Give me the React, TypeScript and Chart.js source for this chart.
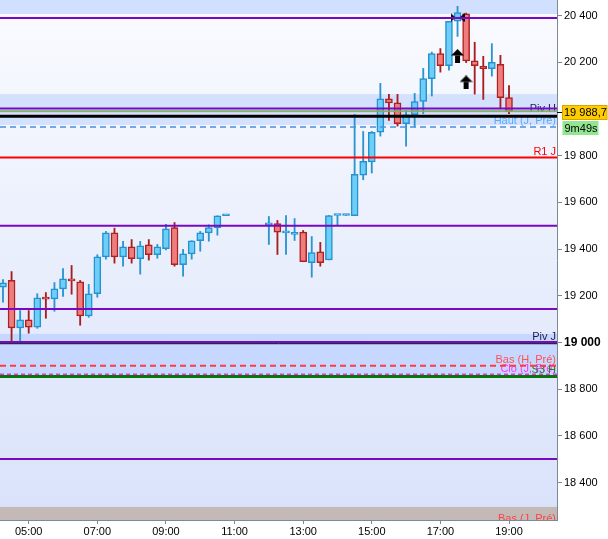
import React, { useEffect, useRef } from "react";
import { Chart, registerables } from "chart.js";

Chart.register(...registerables);

// ---------- data ----------
const candleTimes = [
  "04:15","04:30","04:45","05:00","05:15","05:30","05:45","06:00","06:15","06:30","06:45",
  "07:00","07:15","07:30","07:45","08:00","08:15","08:30","08:45","09:00","09:15","09:30",
  "09:45","10:00","10:15","10:30","10:45",
  "12:00","12:15","12:30","12:45","13:00","13:15","13:30","13:45","14:00","14:15","14:30",
  "14:45","15:00","15:15","15:30","15:45","16:00","16:15","16:30","16:45","17:00","17:15",
  "17:30","17:45","18:00","18:15","18:30","18:45","19:00",
];
const opens = [
  19237,19266,19063,19097,19066,19193,19187,19230,19273,19260,19114,19209,19367,19470,19367,19410,19359,19419,19376,19402,19492,19333,19380,19436,19470,19492,19543,
  19504,19509,19470,19463,19473,19342,19389,19354,19544,19544,19543,19717,19774,19901,20044,20027,19937,19976,20033,20130,20237,20186,20376,20408,20207,20183,20173,20191,20049,
];
const highs = [
  19270,19304,19137,19137,19209,19214,19257,19317,19330,19266,19249,19376,19476,19490,19433,19441,19433,19441,19420,19506,19514,19399,19436,19476,19504,19543,19543,
  19540,19523,19544,19531,19480,19454,19429,19544,19544,19544,19977,19904,19904,20110,20063,20063,19994,20067,20174,20244,20259,20376,20440,20411,20286,20226,20280,20230,20101,
];
const lows = [
  19173,19004,19004,19040,19061,19104,19134,19197,19207,19074,19108,19194,19357,19340,19327,19340,19293,19353,19361,19397,19327,19284,19357,19391,19434,19460,19543,
  19420,19377,19377,19437,19346,19280,19327,19354,19501,19544,19543,19697,19726,19884,19951,19927,19841,19923,19980,20056,20158,20166,20311,20199,20064,20041,20141,20001,19980,
];
const closes = [
  19256,19063,19097,19066,19192,19186,19230,19273,19264,19114,19209,19367,19470,19367,19410,19359,19414,19376,19410,19487,19333,19380,19436,19470,19492,19543,19543,
  19508,19473,19474,19463,19346,19385,19342,19544,19544,19544,19720,19776,19900,20044,20026,19937,19976,20032,20130,20237,20186,20376,20413,20206,20186,20173,20200,20049,19988.7,
];

const xTickHours = [5, 7, 9, 11, 13, 15, 17, 19];
const yTickValues = [18400, 18600, 18800, 19000, 19200, 19400, 19600, 19800, 20200, 20400];
const xRange = [4.163, 20.399];
const yRange = [18240, 20467];

const levelValues = [20390, 20002, 19992, 19988.7, 19969, 19923, 19792, 19500, 19144, 19002, 18995, 18901, 18864, 18855, 18501, 18222];
const levelLabels = ["", "Piv H", "", "", "", "Haut (J, Pré)", "R1 J", "", "", "Piv J", "", "Bas (H, Pré)", "Clo (J, Pré)", "S3 H", "", "Bas (J, Pré)"];

const zoneLows = [20407, 19932, 18857, 18240];
const zoneHighs = [20467, 20064, 19037, 18296];

const arrowTimes = ["17:30", "17:45"];
const arrowValues = [20227, 20114];
const cursorTimes = ["17:30"];
const cursorValues = [20392];

const timerText = "9m49s";

// ---------- styles ----------
const FONT = "'Liberation Sans', Arial, sans-serif";
const PURPLE = "#7a08c2";
const levelStyles = [
  { color: PURPLE, width: 2, dash: [] },
  { color: PURPLE, width: 2, dash: [] },
  { color: "#5cbf5c", width: 1.2, dash: [] },
  { color: "#e07a7a", width: 1, dash: [] },
  { color: "#000000", width: 3, dash: [] },
  { color: "#4a90e2", width: 1.5, dash: [6, 4] },
  { color: "#ff0000", width: 2, dash: [] },
  { color: PURPLE, width: 2, dash: [] },
  { color: PURPLE, width: 2, dash: [] },
  { color: PURPLE, width: 2, dash: [] },
  { color: "#000000", width: 1, dash: [] },
  { color: "#ff3b3b", width: 2, dash: [6, 4] },
  { color: "#ff22ff", width: 1.5, dash: [4, 3] },
  { color: "#007d00", width: 3, dash: [] },
  { color: PURPLE, width: 2, dash: [] },
  { color: "transparent", width: 0, dash: [] },
];
const labelStyles = [
  null,
  { color: "#1b1b5e", dy: 3 },
  null, null, null,
  { color: "#55a8ff", dy: -3 },
  { color: "#ff0000", dy: -2.5 },
  null, null,
  { color: "#1b1b4a", dy: -2 },
  null,
  { color: "#ff5050", dy: -2.5 },
  { color: "#ff33ff", dy: -2.5 },
  { color: "#1f8a1f", dy: -3.5 },
  null,
  { color: "#ff4040", dy: -2 },
];
const zoneColors = ["#d2e0ff", "#d3e1ff", "#c6d8ff", "#c3bab8"];

const toHours = (t: string) => {
  const [h, m] = t.split(":").map(Number);
  return h + m / 60;
};
const fmtThousands = (v: number) => {
  const s = Math.round(v).toString();
  return s.slice(0, -3) + " " + s.slice(-3);
};
const fmtPrice = (v: number) => {
  const ip = Math.floor(v);
  const dec = Math.round((v - ip) * 10);
  return fmtThousands(ip) + "," + dec;
};

function makeArrow(): HTMLCanvasElement {
  const c = document.createElement("canvas");
  c.width = 13;
  c.height = 14;
  const g = c.getContext("2d")!;
  g.fillStyle = "#000";
  g.beginPath();
  g.moveTo(6.5, 0);
  g.lineTo(13, 6.5);
  g.lineTo(0, 6.5);
  g.closePath();
  g.fill();
  g.fillRect(4, 6.5, 5, 7.5);
  return c;
}
function makeBowtie(): HTMLCanvasElement {
  const c = document.createElement("canvas");
  c.width = 14;
  c.height = 9;
  const g = c.getContext("2d")!;
  g.fillStyle = "#000";
  g.beginPath();
  g.moveTo(0, 0);
  g.lineTo(5, 4.5);
  g.lineTo(0, 9);
  g.closePath();
  g.fill();
  g.beginPath();
  g.moveTo(14, 0);
  g.lineTo(9, 4.5);
  g.lineTo(14, 9);
  g.closePath();
  g.fill();
  return c;
}

export default function App() {
  const ref = useRef<HTMLCanvasElement | null>(null);

  useEffect(() => {
    if (!ref.current) return;
    document.body.style.margin = "0";
    const up = closes.map((c, i) => c >= opens[i]);
    const wickColors = up.map((u) => (u ? "#2b95d0" : "#a81e1e"));
    const bodyFill = up.map((u) => (u ? "#6dcff7" : "#ee7d7d"));
    const bodyBorder = up.map((u) => (u ? "#2592cf" : "#b0201f"));

    const levelDatasets: any[] = levelValues
      .map((v, i) => ({ v, i }))
      .filter(({ i }) => levelStyles[i].width > 0)
      .map(({ v, i }) => ({
        type: "line",
        label: "level" + i,
        data: [
          { x: xRange[0], y: v },
          { x: xRange[1], y: v },
        ],
        borderColor: levelStyles[i].color,
        borderWidth: levelStyles[i].width,
        borderDash: levelStyles[i].dash,
        pointRadius: 0,
        fill: false,
        order: 0,
      }));

    const bgPlugin = {
      id: "bg",
      beforeDraw(chart: any) {
        const { ctx, chartArea: a, scales } = chart;
        const y = scales.y;
        ctx.save();
        const g = ctx.createLinearGradient(0, a.top, 0, a.bottom);
        g.addColorStop(0, "#fafbff");
        g.addColorStop(1, "#d9e2fa");
        ctx.fillStyle = g;
        ctx.fillRect(a.left, a.top, a.right - a.left, a.bottom - a.top);
        zoneLows.forEach((lo, i) => {
          const y1 = y.getPixelForValue(zoneHighs[i]);
          const y2 = y.getPixelForValue(lo);
          ctx.fillStyle = zoneColors[i];
          ctx.fillRect(a.left, y1, a.right - a.left, y2 - y1);
        });
        ctx.restore();
      },
      beforeDatasetsDraw(chart: any) {
        const { ctx, chartArea: a, scales } = chart;
        const y = scales.y;
        ctx.save();
        ctx.beginPath();
        ctx.rect(a.left, a.top, a.right - a.left, a.bottom - a.top);
        ctx.clip();
        ctx.font = "11px " + FONT;
        ctx.textAlign = "right";
        ctx.textBaseline = "alphabetic";
        levelLabels.forEach((t, i) => {
          const st = labelStyles[i];
          if (!t || !st) return;
          ctx.fillStyle = st.color;
          ctx.fillText(t, a.right - 1, y.getPixelForValue(levelValues[i]) + st.dy);
        });
        ctx.restore();
      },
      afterDraw(chart: any) {
        const { ctx, chartArea: a, scales, width } = chart;
        const y = scales.y;
        const last = closes[closes.length - 1];
        const py = Math.round(y.getPixelForValue(last));
        ctx.save();
        ctx.strokeStyle = "#000";
        ctx.lineWidth = 1;
        ctx.beginPath();
        ctx.moveTo(a.right, py + 0.5);
        ctx.lineTo(a.right + 6, py + 0.5);
        ctx.stroke();
        // price box
        const bx = a.right + 5.5;
        const bw = width - 1 - bx;
        ctx.fillStyle = "#ffcc00";
        ctx.fillRect(bx, py - 7, bw, 14);
        ctx.strokeStyle = "#d9a400";
        ctx.strokeRect(bx, py - 6.5, bw, 14);
        ctx.fillStyle = "#000";
        ctx.font = "11px " + FONT;
        ctx.textAlign = "left";
        ctx.textBaseline = "middle";
        ctx.fillText(fmtPrice(last), bx + 1.5, py + 0.5);
        // timer box
        ctx.fillStyle = "#92e692";
        ctx.fillRect(bx, py + 9, 36, 14);
        ctx.fillStyle = "#000";
        ctx.fillText(timerText, bx + 2, py + 16.5);
        ctx.restore();
      },
    };

    const chart = new Chart(ref.current, {
      type: "bar",
      data: {
        datasets: [
          ...levelDatasets,
          {
            type: "scatter",
            label: "arrows",
            data: arrowTimes.map((t, i) => ({ x: toHours(t), y: arrowValues[i] })),
            pointStyle: makeArrow(),
            pointRadius: 7,
            order: 0,
          },
          {
            type: "scatter",
            label: "cursor",
            data: cursorTimes.map((t, i) => ({ x: toHours(t), y: cursorValues[i] })),
            pointStyle: makeBowtie(),
            pointRadius: 7,
            order: 0,
          },
          {
            type: "bar",
            label: "bodies",
            data: candleTimes.map((t, i) => ({ x: toHours(t), y: [opens[i], closes[i]] })),
            backgroundColor: bodyFill,
            borderColor: bodyBorder,
            borderWidth: 1.5,
            borderSkipped: false,
            barThickness: 7,
            minBarLength: 2,
            grouped: false,
            order: 2,
          },
          {
            type: "bar",
            label: "wicks",
            data: candleTimes.map((t, i) => ({ x: toHours(t), y: [lows[i], highs[i]] })),
            backgroundColor: wickColors,
            borderWidth: 0,
            barThickness: 1.2,
            minBarLength: 1,
            grouped: false,
            order: 3,
          },
        ] as any,
      },
      options: {
        animation: false,
        responsive: false,
        events: [],
        layout: { padding: 0, autoPadding: false },
        plugins: { legend: { display: false }, tooltip: { enabled: false } },
        scales: {
          x: {
            type: "linear",
            min: xRange[0],
            max: xRange[1],
            offset: false,
            afterBuildTicks: (s: any) => {
              s.ticks = xTickHours.map((v) => ({ value: v }));
            },
            afterFit: (s: any) => {
              s.height = 19;
              s.paddingLeft = 0;
              s.paddingRight = 0;
              s.paddingTop = 0;
              s.paddingBottom = 0;
            },
            grid: {
              drawOnChartArea: false,
              drawTicks: true,
              tickLength: 4,
              tickColor: "#7b8a99",
              color: "#7b8a99",
              offset: false,
            },
            border: { display: true, color: "#7b8a99", width: 1 },
            ticks: {
              autoSkip: false,
              maxRotation: 0,
              padding: 1,
              color: "#000",
              font: { family: FONT, size: 11 },
              callback: (v: any) => String(v).padStart(2, "0") + ":00",
            },
          },
          y: {
            type: "linear",
            position: "right",
            min: yRange[0],
            max: yRange[1],
            afterBuildTicks: (s: any) => {
              s.ticks = yTickValues.map((v) => ({ value: v }));
            },
            afterFit: (s: any) => {
              s.width = 51;
              s.paddingLeft = 0;
              s.paddingRight = 0;
              s.paddingTop = 0;
              s.paddingBottom = 0;
            },
            grid: {
              drawOnChartArea: false,
              drawTicks: true,
              tickLength: 5,
              tickColor: "#7b8a99",
              color: "#7b8a99",
            },
            border: { display: true, color: "#7b8a99", width: 1 },
            ticks: {
              padding: 2,
              color: "#000",
              font: (ctx: any) =>
                ctx.tick && ctx.tick.value === 19000
                  ? { family: FONT, size: 12, weight: "bold" }
                  : { family: FONT, size: 11 },
              callback: (v: any) => fmtThousands(Number(v)),
            },
          },
        },
      } as any,
      plugins: [bgPlugin],
    });
    return () => chart.destroy();
  }, []);

  return (
    <div style={{ position: "fixed", left: 0, top: 0, width: 608, height: 539, background: "#fff" }}>
      <canvas ref={ref} width={608} height={539} style={{ display: "block", width: 608, height: 539 }} />
    </div>
  );
}
